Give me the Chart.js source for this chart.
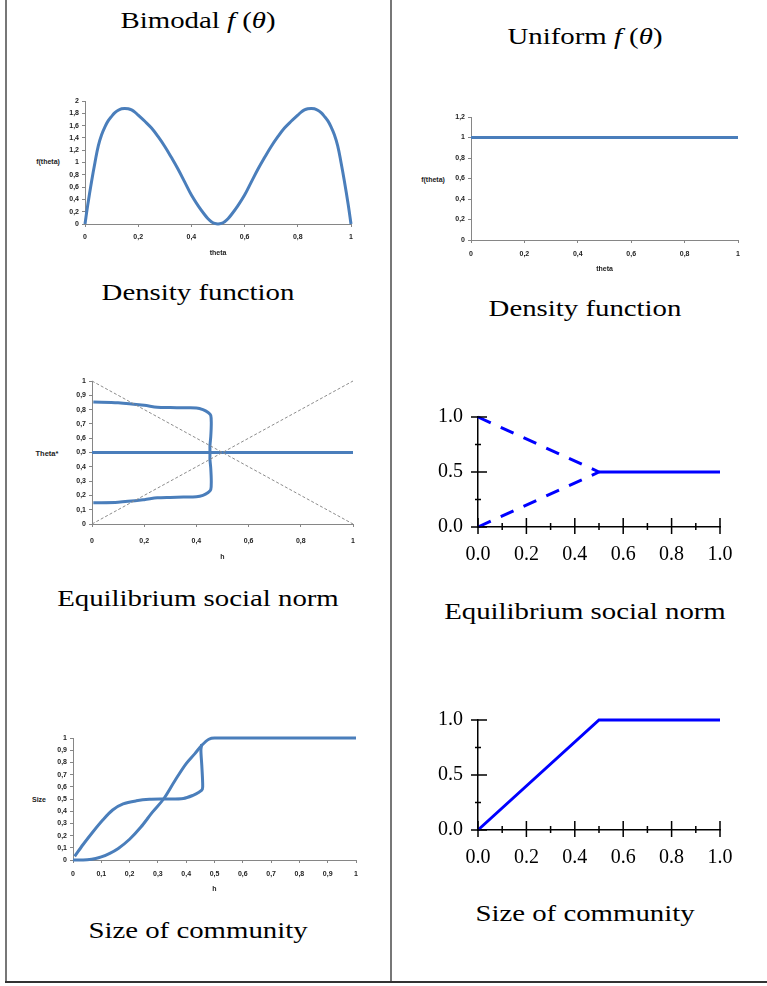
<!DOCTYPE html>
<html>
<head>
<meta charset="utf-8">
<script src="https://cdn.jsdelivr.net/npm/chart.js@4.4.1/dist/chart.umd.min.js"></script>
<style>
body{margin:0;background:#fff;}
#page{position:relative;width:767px;height:986px;overflow:hidden;background:#fff;}
canvas{position:absolute;}
.frame{position:absolute;}
.t{position:absolute;font-family:"Liberation Serif",serif;font-size:24px;color:#000;white-space:nowrap;transform:translate(-50%,-50%) scaleX(1.2);}
.yt{position:absolute;font-family:"Liberation Sans",sans-serif;font-weight:bold;font-size:7px;color:#222;white-space:nowrap;transform:translate(-50%,-50%);}
</style>
</head>
<body>
<div id="page">

<div class="frame" style="left:5px;top:0;width:2px;height:983px;background:#777;"></div>
<div class="frame" style="left:390px;top:0;width:2px;height:983px;background:#777;"></div>
<div class="frame" style="left:5px;top:981px;width:762px;height:2px;background:#333;"></div>

<div class="t" style="left:198px;top:20px;">Bimodal <i>f</i> (<i>θ</i>)</div>
<div class="t" style="left:585px;top:36px;">Uniform <i>f</i> (<i>θ</i>)</div>
<div class="t" style="left:198px;top:292px;">Density function</div>
<div class="t" style="left:585px;top:308px;">Density function</div>
<div class="t" style="left:198px;top:598px;">Equilibrium social norm</div>
<div class="t" style="left:585px;top:611px;">Equilibrium social norm</div>
<div class="t" style="left:198px;top:930px;">Size of community</div>
<div class="t" style="left:585px;top:913px;">Size of community</div>

<div class="yt" style="left:48px;top:161px;">f(theta)</div>
<div class="yt" style="left:433px;top:179px;">f(theta)</div>
<div class="yt" style="left:47px;top:453px;font-size:7.5px;">Theta*</div>
<div class="yt" style="left:39px;top:799px;">Size</div>

<canvas id="c1"></canvas>
<canvas id="c2"></canvas>
<canvas id="c3"></canvas>
<canvas id="c4"></canvas>
<canvas id="c5"></canvas>
<canvas id="c6"></canvas>
</div>

<script>

/* DATA */

// bimodal density f(theta)
const thetaGrid=[0,0.01,0.025,0.0375,0.05,0.0625,0.075,0.0875,0.1,0.1125,0.125,0.1375,0.15,0.1625,0.175,0.1875,0.2,0.225,0.25,0.275,0.3,0.325,0.35,0.375,0.4,0.425,0.45,0.4625,0.475,0.4875,0.5,
                 0.5125,0.525,0.5375,0.55,0.575,0.6,0.625,0.65,0.675,0.7,0.725,0.75,0.775,0.8,0.8125,0.825,0.8375,0.85,0.8625,0.875,0.8875,0.9,0.9125,0.925,0.9375,0.95,0.9625,0.975,0.99,1];
const bimodalF=[0,0.3,0.7,1.0,1.27,1.45,1.58,1.68,1.75,1.81,1.85,1.875,1.88,1.875,1.855,1.82,1.77,1.67,1.56,1.42,1.26,1.08,0.89,0.68,0.47,0.3,0.15,0.085,0.037,0.009,0,
                0.009,0.037,0.085,0.15,0.3,0.47,0.68,0.89,1.08,1.26,1.42,1.56,1.67,1.77,1.82,1.855,1.875,1.88,1.875,1.85,1.81,1.75,1.68,1.58,1.45,1.27,1.0,0.7,0.3,0];

// uniform density
const thetaUni=[0,1];
const uniformF=[1,1];

// bimodal equilibrium social norm
const eqBranchH=[0.005,0.1,0.2,0.25,0.3,0.35,0.4,0.425,0.445,0.455,0.457,0.455,0.452,0.452,0.452,0.455,0.457,0.455,0.445,0.425,0.4,0.35,0.3,0.25,0.2,0.1,0.005];
const eqBranchT=[0.853,0.848,0.83,0.816,0.814,0.813,0.812,0.8,0.78,0.76,0.7,0.61,0.55,0.5,0.45,0.39,0.3,0.24,0.22,0.2,0.19,0.188,0.186,0.183,0.17,0.152,0.148];
const eqFlatH=[0,1];
const eqFlatT=[0.5,0.5];
const diagH=[0,1];
const diagDown=[1,0];
const diagUp=[0,1];

// uniform equilibrium social norm
const uniEqUpperH=[0,0.5];
const uniEqUpperT=[1,0.5];
const uniEqLowerH=[0,0.5];
const uniEqLowerT=[0,0.5];
const uniEqFlatH=[0.5,1];
const uniEqFlatT=[0.5,0.5];

// bimodal size of community
const sizeSH=[0,0.05,0.08,0.1,0.13,0.16,0.2,0.24,0.28,0.32,0.36,0.4,0.43,0.455,0.48,0.5,0.6,0.8,1];
const sizeS=[0,0.003,0.012,0.025,0.055,0.095,0.17,0.27,0.39,0.5,0.65,0.79,0.87,0.94,0.99,1,1,1,1];
const sizeBranchH=[0.006,0.035,0.07,0.106,0.14,0.177,0.224,0.27,0.33,0.39,0.424,0.445,0.457,0.458,0.455,0.452,0.455];
const sizeBranch=[0.03,0.125,0.23,0.33,0.41,0.46,0.485,0.497,0.5,0.505,0.53,0.555,0.58,0.64,0.78,0.9,0.95];

// uniform size of community
const uniSizeH=[0,0.5,1];
const uniSize=[0,1,1];


/* HELPERS */

const XL_BLUE='#4a7ebb';
const PURE_BLUE='#0000ff';

function pts(xs,ys){
return xs.map((x,i)=>({x:x,y:ys[i]}));
}

function comma(v){
const r=Math.round(v*10)/10;
return String(r).replace('.',',');
}

function line(xs,ys,color,width,extra){
return Object.assign({
data:pts(xs,ys),
showLine:true,
borderColor:color,
backgroundColor:color,
borderWidth:width,
pointRadius:0,
fill:false,
clip:false
},extra||{});
}

function xlFont(){
return {family:'Liberation Sans',size:7,weight:'bold'};
}

function excelScale(max,step,pad,fitSize,isX,title){
const s={
type:'linear',min:0,max:max,
afterFit:sc=>{ if(isX){sc.height=fitSize;}else{sc.width=fitSize;} },
ticks:{stepSize:step,padding:pad,color:'#222',font:xlFont(),callback:v=>comma(v),maxRotation:0,autoSkip:false},
grid:{drawOnChartArea:false,drawTicks:true,tickLength:3,color:'#868686'},
border:{display:true,color:'#868686',width:1}
};
if(title){
s.title={display:true,text:title,font:xlFont(),color:'#222',padding:0};
}
return s;
}

function texScale(step,pad,fitSize,isX){
return {
type:'linear',min:0,max:1,
afterFit:sc=>{ if(isX){sc.height=fitSize;}else{sc.width=fitSize;} },
ticks:{stepSize:step,padding:pad,color:'#000',font:{family:'Liberation Serif',size:20},callback:v=>v.toFixed(1),maxRotation:0,autoSkip:false},
grid:{display:false,drawTicks:false},
border:{display:true,color:'#000',width:1.5}
};
}

/* ticks crossing the axis, drawn from the library's own scales */
const crossTicks={
id:'crossTicks',
afterDraw(chart){
const ctx=chart.ctx;
const xs=chart.scales.x, ys=chart.scales.y;
const x0=xs.getPixelForValue(0), y0=ys.getPixelForValue(0);
ctx.save();
ctx.strokeStyle='#000';
ctx.lineWidth=1.5;
ctx.beginPath();
for(let i=0;i<=10;i++){
const px=xs.getPixelForValue(i/10);
const major=i%2===0;
ctx.moveTo(px,y0-(major?9:4));
ctx.lineTo(px,y0+(major?7:3));
}
for(let j=0;j<=4;j++){
const py=ys.getPixelForValue(j/4);
const major=j%2===0;
ctx.moveTo(x0-(major?7:3),py);
ctx.lineTo(x0+(major?9:3),py);
}
ctx.stroke();
ctx.restore();
}
};

function makeChart(id,area,yW,xH,padT,padR,scales,datasets,plugins){
const c=document.getElementById(id);
c.width=(area.r-area.l)+yW+padR;
c.height=(area.b-area.t)+padT+xH;
c.style.left=(area.l-yW)+'px';
c.style.top=(area.t-padT)+'px';
return new Chart(c,{
type:'scatter',
data:{datasets:datasets},
options:{
responsive:false,
animation:false,
devicePixelRatio:1,
layout:{padding:{top:padT,right:padR,left:0,bottom:0}},
plugins:{legend:{display:false},tooltip:{enabled:false}},
scales:scales
},
plugins:plugins||[]
});
}


/* CHARTS */

// bimodal density
makeChart('c1',{l:85,t:101,r:351,b:224},40,33,10,16,{
x:excelScale(1,0.2,6,33,true,'theta'),
y:excelScale(2,0.2,3,40,false)
},[
line(thetaGrid,bimodalF,XL_BLUE,3,{tension:0.4})
]);

// uniform density
makeChart('c2',{l:471,t:117,r:738,b:240},30,33,10,16,{
x:excelScale(1,0.2,7,33,true,'theta'),
y:excelScale(1.2,0.2,3,30,false)
},[
line(thetaUni,uniformF,XL_BLUE,3)
]);

// bimodal equilibrium social norm
makeChart('c3',{l:92,t:381,r:353,b:524},30,37,10,16,{
x:excelScale(1,0.2,10,37,true,'h'),
y:excelScale(1,0.1,3,30,false)
},[
line(diagH,diagDown,'#8c8c8c',1,{borderDash:[3,2]}),
line(diagH,diagUp,'#8c8c8c',1,{borderDash:[3,2]}),
line(eqFlatH,eqFlatT,XL_BLUE,3),
line(eqBranchH,eqBranchT,XL_BLUE,3,{tension:0.3})
]);

// uniform equilibrium social norm
makeChart('c4',{l:478,t:417,r:720,b:527},60,45,32,36,{
x:texScale(0.2,16,45,true),
y:texScale(0.5,15,60,false)
},[
line(uniEqUpperH,uniEqUpperT,PURE_BLUE,3,{borderDash:[14,11]}),
line(uniEqLowerH,uniEqLowerT,PURE_BLUE,3,{borderDash:[14,11]}),
line(uniEqFlatH,uniEqFlatT,PURE_BLUE,3)
],[crossTicks]);

// bimodal size of community
makeChart('c5',{l:73,t:738,r:356,b:860},30,33,10,11,{
x:excelScale(1,0.1,7,33,true,'h'),
y:excelScale(1,0.1,3,30,false)
},[
line(sizeSH,sizeS,XL_BLUE,3,{cubicInterpolationMode:'monotone'}),
line(sizeBranchH,sizeBranch,XL_BLUE,3,{tension:0.3})
]);

// uniform size of community
makeChart('c6',{l:478,t:720,r:720,b:830},60,45,32,36,{
x:texScale(0.2,16,45,true),
y:texScale(0.5,15,60,false)
},[
line(uniSizeH,uniSize,PURE_BLUE,3)
],[crossTicks]);

</script>
</body>
</html>
